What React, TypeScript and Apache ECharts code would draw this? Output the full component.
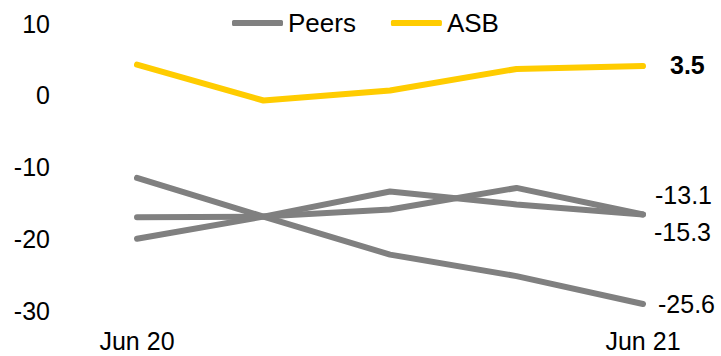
import React, { useEffect, useRef } from "react";
import * as echarts from "echarts";

const categories = ["Jun 20", "Sep 20", "Dec 20", "Mar 21", "Jun 21"];
const shownTicks = ["Jun 20", "Jun 21"];
const yTicks = { min: -30, max: 10, interval: 10 };

const asb = [4.3, -0.7, 0.7, 3.7, 4.1];
const peerA = [-11.5, -16.9, -22.2, -25.2, -29.1];
const peerB = [-17.0, -16.9, -15.9, -12.9, -16.6];
const peerC = [-20.0, -16.9, -13.4, -15.2, -16.6];

const asbEndLabel = "3.5";
const peerAEndLabel = "-25.6";
const peerBEndLabel = "-13.1";
const peerCEndLabel = "-15.3";

const GRAY = "#808080";
const YELLOW = "#FFCC00";
const FONT = "Liberation Sans, Arial, sans-serif";
const FS = 25;

export default function App() {
  const ref = useRef<HTMLDivElement>(null);
  useEffect(() => {
    if (!ref.current) return;
    const chart = echarts.init(ref.current, undefined, { renderer: "svg" });
    const lineSeries = (
      name: string,
      data: number[],
      color: string,
      label: string,
      offset: number[],
      bold = false
    ) => ({
      type: "line",
      name,
      data,
      symbol: "none",
      lineStyle: { color, width: 6, cap: "round", join: "round" },
      itemStyle: { color },
      emphasis: { disabled: true },
      endLabel: {
        show: true,
        formatter: () => label,
        color: "#000",
        fontFamily: FONT,
        fontSize: FS,
        fontWeight: bold ? "bold" : "normal",
        distance: 0,
        offset,
      },
    });
    chart.setOption({
      animation: false,
      textStyle: { fontFamily: FONT },
      grid: { left: 137, right: 78, top: 23.8, bottom: 45.5 },
      legend: {
        data: ["Peers", "ASB"],
        left: 227,
        top: 5,
        itemWidth: 51,
        itemHeight: 6,
        itemGap: 35,
        icon: "roundRect",
        textStyle: { fontFamily: FONT, fontSize: 26, color: "#000" },
        selectedMode: false,
      },
      xAxis: {
        type: "category",
        data: categories,
        boundaryGap: false,
        axisLine: { show: false },
        axisTick: { show: false },
        splitLine: { show: false },
        axisLabel: {
          interval: (i: number, v: string) => shownTicks.includes(v),
          fontFamily: FONT,
          fontSize: FS,
          color: "#000",
          margin: 18,
        },
      },
      yAxis: {
        type: "value",
        min: yTicks.min,
        max: yTicks.max,
        interval: yTicks.interval,
        axisLine: { show: false },
        axisTick: { show: false },
        splitLine: { show: false },
        axisLabel: { fontFamily: FONT, fontSize: FS, color: "#000", margin: 87 },
      },
      series: [
        lineSeries("Peers", peerA, GRAY, peerAEndLabel, [15, 0]),
        lineSeries("Peers", peerB, GRAY, peerBEndLabel, [12, -19]),
        lineSeries("Peers", peerC, GRAY, peerCEndLabel, [11, 18]),
        lineSeries("ASB", asb, YELLOW, asbEndLabel, [27, -1], true),
      ],
    });
    return () => chart.dispose();
  }, []);
  return <div ref={ref} style={{ width: 721, height: 356, position: "absolute", left: 0, top: 0 }} />;
}
